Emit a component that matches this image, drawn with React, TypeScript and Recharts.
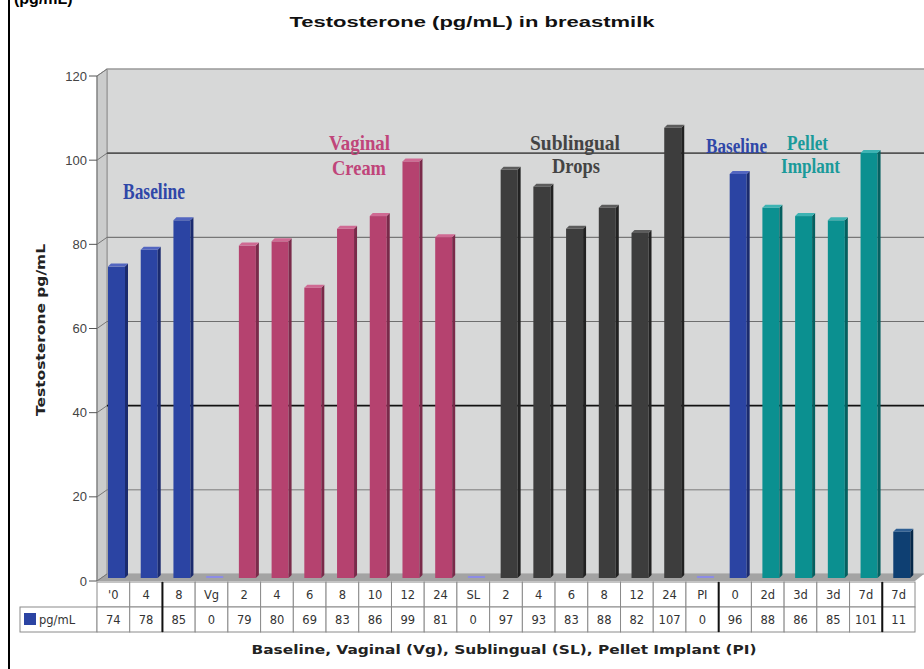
import { Bar, BarChart, CartesianGrid, Cell, XAxis, YAxis } from 'recharts'

// ─── Données ──────────────────────────────────────────────────────────────────

const CATEGORIES = ["'0", '4', '8', 'Vg', '2', '4', '6', '8', '10', '12', '24', 'SL', '2', '4', '6', '8', '12', '24', 'PI', '0', '2d', '3d', '3d', '7d', '7d']
const VALUES = [74, 78, 85, 0, 79, 80, 69, 83, 86, 99, 81, 0, 97, 93, 83, 88, 82, 107, 0, 96, 88, 86, 85, 101, 11]
const GROUPS = ['base', 'base', 'base', 'gap', 'vag', 'vag', 'vag', 'vag', 'vag', 'vag', 'vag', 'gap', 'sub', 'sub', 'sub', 'sub', 'sub', 'sub', 'gap', 'base', 'pel', 'pel', 'pel', 'pel', 'last']
const Y_TICKS = [0, 20, 40, 60, 80, 100, 120]
const THICK_LEFT = [2, 19, 24]

// ─── Géométrie / styles ───────────────────────────────────────────────────────

const W = 924
const H = 669
const PLOT_LEFT = 97
const PLOT_RIGHT = 915
const PLOT_TOP = 76
const PLOT_BOTTOM = 581
const Y_MAX = 120
const DX = 10
const DY = 7

const COLORS: Record<string, { front: string; side: string; top: string }> = {
  base: { front: '#2b44a3', side: '#1b2b6e', top: '#5366c0' },
  vag: { front: '#b5426f', side: '#7a2a4a', top: '#cf6a93' },
  sub: { front: '#3d3d3d', side: '#222222', top: '#5c5c5c' },
  pel: { front: '#0b9090', side: '#056060', top: '#3db3b3' },
  last: { front: '#0e3f72', side: '#072848', top: '#2f5f93' },
  gap: { front: '#8c8ce6', side: '#8c8ce6', top: '#8c8ce6' },
}

const GRID_STYLE: Record<number, { c: string; w: number }> = {
  0: { c: '#8a8a8a', w: 1 },
  20: { c: '#7a7a7a', w: 1 },
  40: { c: '#111111', w: 1.6 },
  60: { c: '#6e6e6e', w: 1.2 },
  80: { c: '#777777', w: 1.2 },
  100: { c: '#555555', w: 1.6 },
  120: { c: '#999999', w: 1 },
}

const chartData = CATEGORIES.map((label, i) => ({
  id: `c${i}`,
  label,
  value: VALUES[i],
  group: GROUPS[i],
}))

// ─── Barres 3D ────────────────────────────────────────────────────────────────

function Bar3D(props: any) {
  const { x, y, width, height, payload } = props
  const col = COLORS[payload.group]
  const bx = x + 3
  const by = y - 3
  const bottom = y + height - 3
  if (!height || height <= 0) {
    return <rect x={bx} y={bottom - 2} width={width} height={2} fill={col.front} />
  }
  const d = 3
  return (
    <g>
      <rect x={bx} y={by} width={width} height={height} fill={col.front} />
      <polygon
        points={`${bx + width},${by} ${bx + width + d},${by - d} ${bx + width + d},${bottom - d} ${bx + width},${bottom}`}
        fill={col.side}
      />
      <polygon
        points={`${bx},${by} ${bx + d},${by - d} ${bx + width + d},${by - d} ${bx + width},${by}`}
        fill={col.top}
      />
    </g>
  )
}

// ─── Quadrillage sur le mur du fond ───────────────────────────────────────────

function GridLine(p: any) {
  const v = Math.round(((PLOT_BOTTOM - p.y1) / (PLOT_BOTTOM - PLOT_TOP)) * Y_MAX)
  const s = GRID_STYLE[v] ?? { c: '#888', w: 1 }
  return (
    <g key={`gl-${v}`}>
      <line x1={p.x1} y1={p.y1} x2={p.x1 + DX} y2={p.y1 - DY} stroke="#777" strokeWidth={1} />
      {v > 0 && (
        <line x1={p.x1 + DX} y1={p.y1 - DY} x2={W + 10} y2={p.y1 - DY} stroke={s.c} strokeWidth={s.w} />
      )}
    </g>
  )
}

// ─── Tableau de données sous l'axe ────────────────────────────────────────────

function TableTick(props: any) {
  const { x, y, payload } = props
  const i = payload.index
  const colW = (PLOT_RIGHT - PLOT_LEFT) / CATEGORIES.length
  const left = x - colW / 2
  const r1 = y + 1
  const r2 = r1 + 25
  const r3 = r2 + 25
  const font = { fontFamily: 'DejaVu Sans', fontSize: 11.5, fill: '#333' }
  return (
    <g>
      {i === 0 && (
        <g>
          <rect x={20} y={r2} width={left - 20} height={r3 - r2} fill="#fff" stroke="#8a8a8a" />
          <rect x={24} y={r2 + 6} width={12} height={12} fill={COLORS.base.front} />
          <text x={39} y={r2 + 17} {...font}>
            pg/mL
          </text>
        </g>
      )}
      <rect x={left} y={r1} width={colW} height={r2 - r1} fill="#fff" stroke="#8a8a8a" />
      <rect x={left} y={r2} width={colW} height={r3 - r2} fill="#fff" stroke="#8a8a8a" />
      {THICK_LEFT.includes(i) && <line x1={left} y1={r1} x2={left} y2={r3} stroke="#111" strokeWidth={2} />}
      <text x={x} y={r1 + 17} textAnchor="middle" {...font}>
        {CATEGORIES[i]}
      </text>
      <text x={x} y={r2 + 17} textAnchor="middle" {...font}>
        {VALUES[i]}
      </text>
    </g>
  )
}

// ─── Annotations ──────────────────────────────────────────────────────────────

const ANNOTATIONS = [
  { text: 'Baseline', x: 123, y: 199, w: 62, size: 24, color: '#2f47a8' },
  { text: 'Vaginal', x: 329, y: 150, w: 61, size: 21, color: '#c0457a' },
  { text: 'Cream', x: 332, y: 175, w: 54, size: 21, color: '#c0457a' },
  { text: 'Sublingual', x: 530, y: 150, w: 90, size: 21, color: '#444444' },
  { text: 'Drops', x: 552, y: 173, w: 48, size: 21, color: '#444444' },
  { text: 'Baseline', x: 706, y: 153, w: 61, size: 22, color: '#2f47a8' },
  { text: 'Pellet', x: 787, y: 150, w: 41, size: 20, color: '#1a9a9a' },
  { text: 'Implant', x: 781, y: 173, w: 59, size: 20, color: '#1a9a9a' },
]

// ─── Composant ────────────────────────────────────────────────────────────────

export default function App() {
  const abs = { position: 'absolute' as const, left: 0, top: 0 }
  return (
    <div style={{ position: 'fixed', left: 0, top: 0, width: W, height: H, background: '#fff', overflow: 'hidden' }}>
      {/* Fond : murs et plancher */}
      <svg width={W} height={H} style={abs}>
        <rect x={0} y={0} width={W} height={H} fill="#fff" />
        <rect x={8} y={0} width={2} height={H} fill="#000" />
        <rect x={PLOT_LEFT + DX} y={PLOT_TOP - DY} width={W} height={PLOT_BOTTOM - PLOT_TOP} fill="#d7d8d8" stroke="#9a9a9a" />
        <polygon
          points={`${PLOT_LEFT},${PLOT_TOP} ${PLOT_LEFT + DX},${PLOT_TOP - DY} ${PLOT_LEFT + DX},${PLOT_BOTTOM - DY} ${PLOT_LEFT},${PLOT_BOTTOM}`}
          fill="#cbcccc"
          stroke="#8f8f8f"
        />
        <polygon
          points={`${PLOT_LEFT},${PLOT_BOTTOM} ${PLOT_LEFT + DX},${PLOT_BOTTOM - DY} ${W},${PLOT_BOTTOM - DY} ${PLOT_RIGHT},${PLOT_BOTTOM}`}
          fill="#a3a3a3"
        />
      </svg>

      <div style={abs}>
        <BarChart
          width={W}
          height={H}
          data={chartData}
          margin={{ top: PLOT_TOP, right: W - PLOT_RIGHT, bottom: H - PLOT_BOTTOM - 51, left: 0 }}
          barSize={17}
        >
          <CartesianGrid vertical={false} horizontal={GridLine} />
          <XAxis
            dataKey="id"
            type="category"
            interval={0}
            height={51}
            axisLine={false}
            tickLine={false}
            tickSize={0}
            tickMargin={0}
            tick={TableTick}
          />
          <YAxis
            width={PLOT_LEFT}
            domain={[0, Y_MAX]}
            ticks={Y_TICKS}
            interval={0}
            tickSize={8}
            tickMargin={2}
            axisLine={{ stroke: '#7a7a7a' }}
            tickLine={{ stroke: '#555' }}
            tick={{ fontSize: 13, fill: '#444', fontFamily: 'Liberation Sans' }}
          />
          <Bar dataKey="value" shape={Bar3D} isAnimationActive={false}>
            {chartData.map((d) => (
              <Cell key={d.id} fill={COLORS[d.group].front} />
            ))}
          </Bar>
        </BarChart>
      </div>

      {/* Textes */}
      <svg width={W} height={H} style={{ ...abs, pointerEvents: 'none' }}>
        <text x={14} y={4} fontFamily="Liberation Sans" fontWeight="bold" fontSize={16} fill="#000">
          (pg/mL)
        </text>
        <text
          x={472}
          y={27}
          textAnchor="middle"
          fontFamily="Liberation Sans"
          fontWeight="bold"
          fontSize={15}
          fill="#111"
          textLength={365}
          lengthAdjust="spacingAndGlyphs"
        >
          Testosterone (pg/mL) in breastmilk
        </text>
        <text
          transform="rotate(-90)"
          x={-330}
          y={45}
          textAnchor="middle"
          fontFamily="DejaVu Sans"
          fontWeight="bold"
          fontSize={12.5}
          fill="#222"
          textLength={172}
          lengthAdjust="spacingAndGlyphs"
        >
          Testosterone pg/mL
        </text>
        <text
          x={504}
          y={654}
          textAnchor="middle"
          fontFamily="DejaVu Sans"
          fontWeight="bold"
          fontSize={12}
          fill="#222"
          textLength={505}
          lengthAdjust="spacingAndGlyphs"
        >
          Baseline, Vaginal (Vg), Sublingual (SL), Pellet Implant (PI)
        </text>
        {ANNOTATIONS.map((a, i) => (
          <text
            key={i}
            x={a.x}
            y={a.y}
            fontFamily="Liberation Serif"
            fontWeight="bold"
            fontSize={a.size}
            fill={a.color}
            textLength={a.w}
            lengthAdjust="spacingAndGlyphs"
          >
            {a.text}
          </text>
        ))}
      </svg>
    </div>
  )
}
